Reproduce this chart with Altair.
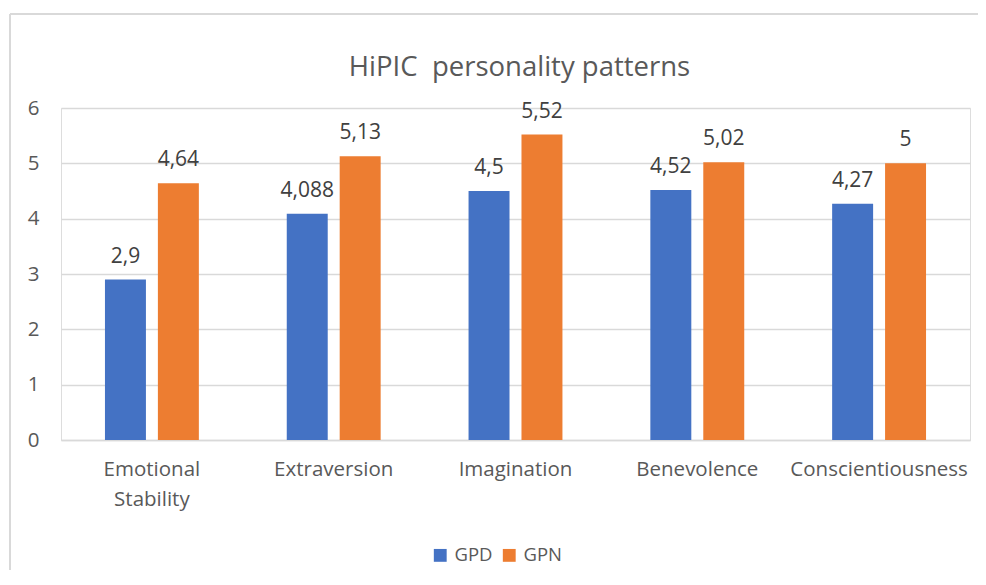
import altair as alt
import pandas as pd

title_text = "HiPIC\u00a0 personality patterns"
categories = ["Emotional Stability", "Extraversion", "Imagination", "Benevolence", "Conscientiousness"]
series = ["GPD", "GPN"]
gpd_values = [2.9, 4.088, 4.5, 4.52, 4.27]
gpn_values = [4.64, 5.13, 5.52, 5.02, 5.0]
gpd_labels = ["2,9", "4,088", "4,5", "4,52", "4,27"]
gpn_labels = ["4,64", "5,13", "5,52", "5,02", "5"]
colors = ["#4472C4", "#ED7D31"]

rows = []
for i, c in enumerate(categories):
    rows.append({"category": c, "series": "GPD", "value": gpd_values[i], "label": gpd_labels[i]})
    rows.append({"category": c, "series": "GPN", "value": gpn_values[i], "label": gpn_labels[i]})
df = pd.DataFrame(rows)

FONT = "Open Sans"
W, H = 909, 332

x = alt.X("category:N", sort=categories, title=None,
          scale=alt.Scale(paddingInner=0.4835, paddingOuter=0.2418),
          axis=alt.Axis(labelAngle=0, labelExpr="split(datum.label, ' ')",
                        labelFont=FONT, labelFontSize=20.5, labelColor="#595959",
                        labelLineHeight=30, labelPadding=19, ticks=False,
                        domainColor="#D9D9D9", domainWidth=1.3, grid=False))
xo = alt.XOffset("series:N", sort=series, scale=alt.Scale(paddingInner=0.226))
y = alt.Y("value:Q", title=None,
          scale=alt.Scale(domain=[0, 6], nice=False),
          axis=alt.Axis(values=[0, 1, 2, 3, 4, 5, 6], format="d", labelFont=FONT,
                        labelFontSize=20.5, labelColor="#595959", labelPadding=22,
                        ticks=False, domain=False, gridColor="#D9D9D9", gridWidth=1.3))

base = alt.Chart(df)

bars = base.mark_bar().encode(
    x=x, xOffset=xo, y=y,
    color=alt.Color("series:N", sort=series,
                    scale=alt.Scale(domain=series, range=colors),
                    legend=alt.Legend(title=None, orient="none", direction="horizontal",
                                      legendX=370, legendY=438, symbolType="square",
                                      symbolSize=165, symbolStrokeWidth=0,
                                      labelFont=FONT, labelFontSize=18.5, labelColor="#595959",
                                      columnPadding=7, labelOffset=5, padding=0)),
)

labels = base.mark_text(baseline="alphabetic", dy=-17, font=FONT, fontSize=21,
                        color="#404040").encode(
    x=alt.X("category:N", sort=categories), xOffset=alt.XOffset("series:N", sort=series),
    y="value:Q", text="label:N",
)

title_df = pd.DataFrame({"t": [title_text]})
title = alt.Chart(title_df).mark_text(baseline="alphabetic", align="center", font=FONT,
                                      fontSize=27.5, color="#595959").encode(
    x=alt.value(W / 2 + 4), y=alt.value(-32), text="t:N")

border_v = alt.Chart(title_df).mark_rule(color="#D9D9D9", strokeWidth=2).encode(
    x=alt.value(-51), y=alt.value(-94), y2=alt.value(600))
border_h = alt.Chart(title_df).mark_rule(color="#D9D9D9", strokeWidth=2).encode(
    x=alt.value(-51), x2=alt.value(1000), y=alt.value(-94))

chart = alt.layer(border_v, border_h, title, bars, labels).properties(
    width=W, height=H,
    autosize=alt.AutoSizeParams(type="none"),
    padding={"left": 53, "top": 100, "right": 8, "bottom": 130},
).configure_view(stroke=None).configure(background="white")

chart.save("out.html", embed_options={"renderer": "svg", "actions": False})
